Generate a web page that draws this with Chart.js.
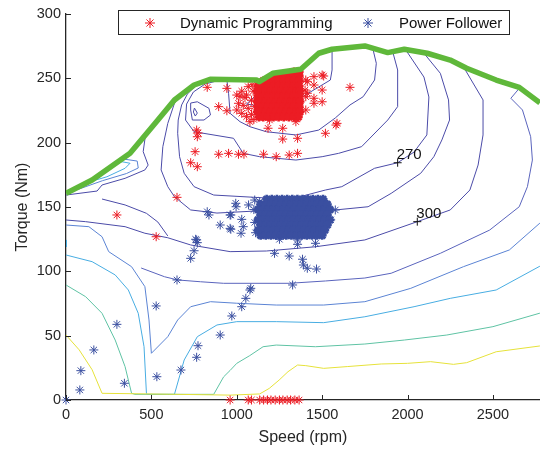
<!DOCTYPE html>
<html>
<head>
<meta charset="utf-8">
<script src="https://cdn.jsdelivr.net/npm/chart.js@4.4.1/dist/chart.umd.min.js"></script>
<style>
  html, body { margin: 0; padding: 0; background: #fff; overflow: hidden; }
  canvas { display: block; }
</style>
</head>
<body>
<canvas id="meuGrafico" width="547" height="450"></canvas>
<script>
// eixos
const xTicks = [0, 500, 1000, 1500, 2000, 2500];
const yTicks = [0, 50, 100, 150, 200, 250, 300];

// curva de torque máximo [rpm, Nm]
const torqueMax = [[0,160.6],[153,171],[375,191.7],[538,217.6],[635,233.2],[750,244.8],[844,249.2],[1115,248.7],[1132,247.4],[1211,253.9],[1375,257],[1480,269.5],[1558,272.6],[1750,275.2],[1884,270],[1981,272.6],[2115,269.5],[2250,264.2],[2346,257.8],[2519,248.7],[2654,243],[2775,231]];

// curvas de nível do mapa de consumo
const curvaAmarela = [[0,50.5],[77,39],[153,23.5],[211,5.2],[600,4.5],[961,3.8],[1134,4.7],[1190,9],[1248,15.5],[1300,22],[1356,27.2],[1404,26.7],[1509,24.6],[1650,26],[1846,28],[2000,28.5],[2135,29.8],[2269,27.7],[2346,29],[2519,37.5],[2775,42]];
const curvaVerdeAgua = [[0,89.4],[115,80.3],[211,67.4],[288,46.6],[346,25.9],[384,5.2],[404,4.4],[865,4.4],[923,18],[961,23],[1000,28.5],[1076,34.5],[1154,41.4],[1231,42.7],[1461,41.4],[1750,43.5],[1981,46.6],[2230,50.5],[2500,57],[2775,67.5]];
const curvaAzulClara = [[0,112.7],[153,107.5],[288,97.2],[365,85.5],[423,67.4],[457,41.4],[471,5.2],[477,4.4],[635,4.4],[692,31.1],[769,49.2],[884,58.3],[1000,60.9],[1231,60.9],[1509,60.1],[1750,64.7],[2038,72.5],[2250,79],[2519,85.5],[2775,104]];
const curvaAzulClaraBorda = [[0,124.4],[3,119]];
const curvaAzul = [[0,136],[134,134.7],[211,126.9],[250,115.3],[384,103.6],[462,88.1],[486,62.2],[500,36.3],[596,49.2],[654,62.2],[730,72.5],[846,76.4],[1000,75.2],[1231,73.8],[1509,73.8],[1750,76.4],[2019,86.8],[2327,103.6],[2596,116.6],[2775,137.5]];
const curvaL5 = [[440,102.6],[577,95.8],[654,93.3],[788,91.9],[923,90.7],[1307,90.7],[1519,92.5],[1750,94.8],[1904,98.5],[2192,114],[2481,132.1],[2654,150.2],[2702,165.8],[2731,186.5],[2721,204.6],[2673,225.4],[2605,234.5],[2654,242.2]];
const curva300 = [[0,139.9],[115,138.6],[346,134.7],[462,129.6],[596,126.1],[730,120.5],[961,115.3],[1173,115.8],[1461,119.1],[1750,124.4],[2057,138.6],[2250,147.7],[2365,163.2],[2413,182.6],[2442,206],[2442,233.2],[2327,259]];
const curvaF = [[665,236],[635,230.6],[596,215],[567,196.9],[557,178.8],[596,165.8],[635,158],[730,147.7],[884,145.3],[1115,146.9],[1346,146.9],[1577,147.7],[1769,150.2],[1904,160.6],[2077,176.2],[2154,189.1],[2201,202.1],[2246,217.6],[2240,233.2],[2192,253.9],[2096,269.5]];
const curva270 = [[769,245.5],[711,237.8],[677,229.3],[657,217.6],[654,207.3],[665,189.1],[692,176.2],[750,165.8],[865,159.3],[1173,157],[1365,157.8],[1519,163.2],[1615,165.8],[1807,180.1],[1942,184.4],[2038,192.7],[2113,206],[2125,235.5],[2096,251],[1990,272]];
const curvaK3 = [[913,249],[815,245.6],[746,239.4],[706,230],[700,217.6],[750,208.5],[981,203.4],[1038,191.7],[1134,189.1],[1346,186.5],[1500,189.1],[1596,191.7],[1731,196.9],[1884,217.6],[1942,228],[1942,256.5],[1913,270.7]];
const curvaK2 = [[942,248.7],[952,238.4],[961,222.8],[1019,216.3],[1077,212.4],[1173,208.5],[1346,206],[1480,209.8],[1577,219.2],[1663,229.3],[1740,235.7],[1807,248.7],[1817,261.7],[1796,273.4]];
const curvaK1 = [[1120,248.2],[1127,238.6],[1057,230],[1173,227.7],[1250,231.8],[1385,235.7],[1548,248.7],[1558,256.5],[1558,272.6]];
const ilhaMedia = [[730,230.8],[769,231.8],[837,226.7],[846,221.5],[808,217.6],[740,217.6],[730,225.4],[730,230.8]];
const ilhaPequena = [[752,226.9],[769,223],[757,220.7],[746,223.8],[752,226.9]];
const curvaE = [[0,159.3],[182,162.4],[211,167.1],[346,172.3],[462,178.8],[481,182.6],[452,193],[465,205.5]];
const curvaC = [[211,156.2],[346,151.6],[471,145.1],[538,138.3],[596,127.5]];
const laçoAzul = [[60,163.5],[221,177.2],[336,187.3],[417,185.7],[423,180.3],[354,176],[215,170.5],[77,164]];
const laçoAzulClaro = [[125,170],[327,185.2],[375,184],[346,180.1],[240,173.5],[134,169.4]];

// rótulos das curvas
const rotulosPontos = [[1942,184.4],[2057,138.6]];
const rotulosTexto = ['270', '300'];

// pontos de operação - Dynamic Programming
const dpPontos = [
  [827,243],[942,242.2],[1000,237],[1067,243.5],[894,228],[942,224.8],[1010,230.6],[1000,225.4],[1029,222.8],[1067,226.7],[1057,220.2],[1077,216.3],
  [1029,240],[1048,235],[1038,229],[1086,233],[1096,240],[1086,222],[1100,218],[1019,236],[1105,228],[1057,237],[1090,245],
  [1192,217.6],[1346,216.3],
  [765,209.8],[769,204.6],[773,207.5],[756,193],[730,184.4],[769,181.3],
  [894,191],[952,191.7],[1010,191],[1042,191],[1157,191],[1231,189.1],[1307,190.4],[1356,191.7],
  [650,157.5],[298,143.8],[528,126.9],
  [1183,211.2],[1269,211.2],[1269,202.8],[1356,203.4],
  [1404,225.4],[1413,238.4],[1413,247.4],[1452,251.3],[1500,252.6],[1452,244.8],[1500,240.9],[1500,231.8],[1452,230.6],[1404,235.7],[1452,234.5],[1400,240.9],[1509,251.8],[1404,248.7],
  [1587,215],[1519,207.3],[1581,213.7],[1663,243]
];
const dpTorqueZero = [961, 1067, 1086, 1134, 1157, 1180, 1200, 1225, 1250, 1270, 1295, 1315, 1340, 1365];
const dpNucleo = [
  [255, [1335, 1365]],
  [252, [1215, 1245, 1275, 1305, 1335, 1365]],
  [248, [1155, 1185, 1215, 1245, 1275, 1305, 1335, 1365]],
  [244, [1125, 1155, 1185, 1215, 1245, 1275, 1305, 1335, 1365]],
  [240, [1120, 1140, 1170, 1200, 1230, 1260, 1290, 1320, 1350, 1370]],
  [236, [1125, 1155, 1185, 1215, 1245, 1275, 1305, 1335, 1365]],
  [232, [1120, 1140, 1170, 1200, 1230, 1260, 1290, 1320, 1350, 1370]],
  [228, [1125, 1155, 1185, 1215, 1245, 1275, 1305, 1335, 1365]],
  [224, [1120, 1140, 1170, 1200, 1230, 1260, 1290, 1320, 1350, 1370]],
  [220, [1130, 1155, 1185, 1215, 1245, 1275, 1305, 1335, 1360]]
];

// pontos de operação - Power Follower
const pfPontos = [
  [0,0],[81,7.8],[87,22.8],[163,38.9],[298,58.8],[342,13],[528,73.1],[532,18.1],[673,23.3],[765,33.2],[773,42.2],[903,50.5],[971,65.3],[1029,72.5],[1053,79],[1077,85.5],[650,93.3],
  [730,110.1],[750,116],[759,124.9],[765,124.4],[769,122.3],
  [827,146.3],[837,143.8],[903,136],[961,143.8],[965,143.8],[961,133.4],[965,132.7],[994,152.9],[996,150.2],[1029,140.4],[1038,134.7],[1025,129.6],[1069,151.6],[1105,155.4],[1134,154.1],
  [1100,148],[1105,138],[1110,130],
  [1221,114],[1307,111.9],[1385,109.4],[1390,104.9],[1413,102.4],[1467,101.8],[1327,89.4],[1082,86.8],
  [1250,124.9],[1356,124.4],[1356,121],[1461,121.8],[1577,147.7],[1550,140]
];
const pfNucleo = [
  [156, [1175, 1205, 1235, 1265, 1295, 1325, 1355, 1385, 1415, 1445, 1475, 1505]],
  [152, [1140, 1170, 1200, 1230, 1260, 1290, 1320, 1350, 1380, 1410, 1440, 1470, 1500, 1530]],
  [148, [1125, 1155, 1185, 1215, 1245, 1275, 1305, 1335, 1365, 1395, 1425, 1455, 1485, 1515, 1545]],
  [144, [1140, 1170, 1200, 1230, 1260, 1290, 1320, 1350, 1380, 1410, 1440, 1470, 1500, 1530]],
  [140, [1125, 1155, 1185, 1215, 1245, 1275, 1305, 1335, 1365, 1395, 1425, 1455, 1485, 1515, 1545]],
  [136, [1140, 1170, 1200, 1230, 1260, 1290, 1320, 1350, 1380, 1410, 1440, 1470, 1500, 1530]],
  [132, [1125, 1155, 1185, 1215, 1245, 1275, 1305, 1335, 1365, 1395, 1425, 1455, 1485, 1515]],
  [128, [1140, 1170, 1200, 1230, 1260, 1290, 1320, 1350, 1380, 1410, 1440, 1470, 1500]]
];

const fonte = "'Liberation Sans', Arial, Helvetica, sans-serif";
const corEixo = '#262626';
const corDP = '#ec1c24';
const corPF = '#3a4fa0';

const paraXY = lista => lista.map(([x, y]) => ({ x, y }));
const nucleoXY = linhas => linhas.flatMap(([nm, rpms]) => rpms.map(r => ({ x: r, y: nm })));

function curva(pontos, cor) {
  return {
    data: paraXY(pontos),
    showLine: true,
    borderColor: cor,
    borderWidth: 1,
    pointRadius: 0,
    fill: false,
    tension: 0,
    order: 10
  };
}

function asteriscos(label, pontos, cor, espessura, ordem) {
  return {
    label,
    data: pontos,
    pointStyle: 'star',
    pointRadius: 4.5,
    borderColor: cor,
    backgroundColor: cor,
    borderWidth: espessura,
    clip: false, // pontos em torque zero aparecem inteiros sobre o eixo
    order: ordem
  };
}

const roxo = '#4b4ba8';
const datasets = [
  {
    label: 'torque max',
    data: paraXY(torqueMax),
    showLine: true,
    borderColor: '#5fb83a',
    borderWidth: 5.5,
    pointRadius: 0,
    borderJoinStyle: 'round',
    order: 0
  },
  {
    label: 'rotulos',
    data: paraXY(rotulosPontos),
    pointStyle: 'cross',
    pointRadius: 4,
    borderColor: '#111',
    borderWidth: 1,
    order: 1
  },
  asteriscos('Dynamic Programming', [...paraXY(dpPontos), ...dpTorqueZero.map(r => ({ x: r, y: 0 }))], corDP, 1, 2),
  asteriscos('Power Follower', paraXY(pfPontos), corPF, 1, 3),
  // núcleos densos: traço mais grosso para fechar a mancha
  asteriscos('', nucleoXY(dpNucleo), corDP, 2.6, 2),
  asteriscos('', nucleoXY(pfNucleo), corPF, 2.6, 3),
  curva(curvaAmarela, '#e6e23a'),
  curva(curvaVerdeAgua, '#5fc3a4'),
  curva(curvaAzulClara, '#48ade2'),
  curva(curvaAzulClaraBorda, '#48ade2'),
  curva(curvaAzul, '#5b84d4'),
  curva(curvaL5, '#5a64bd'),
  curva(curva300, roxo),
  curva(curvaF, roxo),
  curva(curva270, roxo),
  curva(curvaK3, roxo),
  curva(curvaK2, roxo),
  curva(curvaK1, roxo),
  curva(ilhaMedia, roxo),
  curva(ilhaPequena, roxo),
  curva(curvaE, roxo),
  curva(curvaC, roxo),
  curva(laçoAzul, '#5b84d4'),
  curva(laçoAzulClaro, '#48ade2')
];

// marcas de escala para dentro, como no MATLAB
const marcasInternas = {
  id: 'marcasInternas',
  afterDraw(chart) {
    const { ctx, scales: { x, y }, chartArea } = chart;
    ctx.save();
    ctx.strokeStyle = corEixo;
    ctx.lineWidth = 1;
    ctx.beginPath();
    xTicks.forEach(v => {
      const px = Math.round(x.getPixelForValue(v)) + 0.5;
      ctx.moveTo(px, chartArea.bottom);
      ctx.lineTo(px, chartArea.bottom - 5);
    });
    yTicks.forEach(v => {
      const py = Math.round(y.getPixelForValue(v)) + 0.5;
      ctx.moveTo(chartArea.left, py);
      ctx.lineTo(chartArea.left + 5, py);
    });
    ctx.stroke();
    ctx.restore();
  }
};

// texto dos rótulos das curvas de nível
const rotulosCurvas = {
  id: 'rotulosCurvas',
  afterDatasetsDraw(chart) {
    const { ctx, scales: { x, y } } = chart;
    ctx.save();
    ctx.fillStyle = '#111';
    ctx.font = '15px ' + fonte;
    ctx.textAlign = 'left';
    ctx.textBaseline = 'alphabetic';
    rotulosPontos.forEach(([rpm, nm], i) => {
      ctx.fillText(rotulosTexto[i], x.getPixelForValue(rpm) - 1, y.getPixelForValue(nm) - 4);
    });
    ctx.restore();
  }
};

function desenhaAsterisco(ctx, cx, cy, r, cor) {
  const d = r * Math.SQRT1_2;
  ctx.strokeStyle = cor;
  ctx.lineWidth = 1;
  ctx.beginPath();
  ctx.moveTo(cx - r, cy); ctx.lineTo(cx + r, cy);
  ctx.moveTo(cx, cy - r); ctx.lineTo(cx, cy + r);
  ctx.moveTo(cx - d, cy - d); ctx.lineTo(cx + d, cy + d);
  ctx.moveTo(cx - d, cy + d); ctx.lineTo(cx + d, cy - d);
  ctx.stroke();
}

// legenda em caixa dentro da área do gráfico
const legendaCaixa = {
  id: 'legendaCaixa',
  afterDraw(chart) {
    const { ctx } = chart;
    ctx.save();
    ctx.fillStyle = '#fff';
    ctx.fillRect(118, 10, 392, 25);
    ctx.strokeStyle = corEixo;
    ctx.lineWidth = 1;
    ctx.strokeRect(118.5, 10.5, 391, 24);
    const entradas = [
      { ds: chart.data.datasets[2], xm: 150, xt: 180 },
      { ds: chart.data.datasets[3], xm: 368, xt: 399 }
    ];
    ctx.font = '15px ' + fonte;
    ctx.textBaseline = 'middle';
    ctx.textAlign = 'left';
    entradas.forEach(e => {
      desenhaAsterisco(ctx, e.xm, 23, 5, e.ds.borderColor);
      ctx.fillStyle = '#111';
      ctx.fillText(e.ds.label, e.xt, 23.5);
    });
    ctx.restore();
  }
};

const ctx = document.getElementById('meuGrafico').getContext('2d');
new Chart(ctx, {
  type: 'scatter',
  data: { datasets },
  plugins: [marcasInternas, rotulosCurvas, legendaCaixa],
  options: {
    responsive: false,
    animation: false,
    events: [],
    layout: { padding: { top: 14, right: 0, left: 0, bottom: 0 } },
    plugins: {
      legend: { display: false },
      tooltip: { enabled: false }
    },
    scales: {
      x: {
        type: 'linear',
        min: 0,
        max: 2775,
        afterFit: s => { s.height = 50; },
        afterBuildTicks: s => { s.ticks = xTicks.map(v => ({ value: v })); },
        grid: { display: false, drawTicks: false },
        border: { color: corEixo, width: 1.3 },
        ticks: { color: corEixo, font: { family: fonte, size: 14.5 }, padding: 6, maxRotation: 0, callback: v => String(v) },
        title: { display: true, text: 'Speed (rpm)', color: corEixo, font: { family: fonte, size: 16 }, padding: 3 }
      },
      y: {
        type: 'linear',
        min: 0,
        max: 300,
        afterFit: s => { s.width = 66; },
        afterBuildTicks: s => { s.ticks = yTicks.map(v => ({ value: v })); },
        grid: { display: false, drawTicks: false },
        border: { color: corEixo, width: 1.3 },
        ticks: { color: corEixo, font: { family: fonte, size: 14.5 }, padding: 5, callback: v => String(v) },
        title: { display: true, text: 'Torque (Nm)', color: corEixo, font: { family: fonte, size: 16 }, padding: 13 }
      }
    }
  }
});
</script>
</body>
</html>
